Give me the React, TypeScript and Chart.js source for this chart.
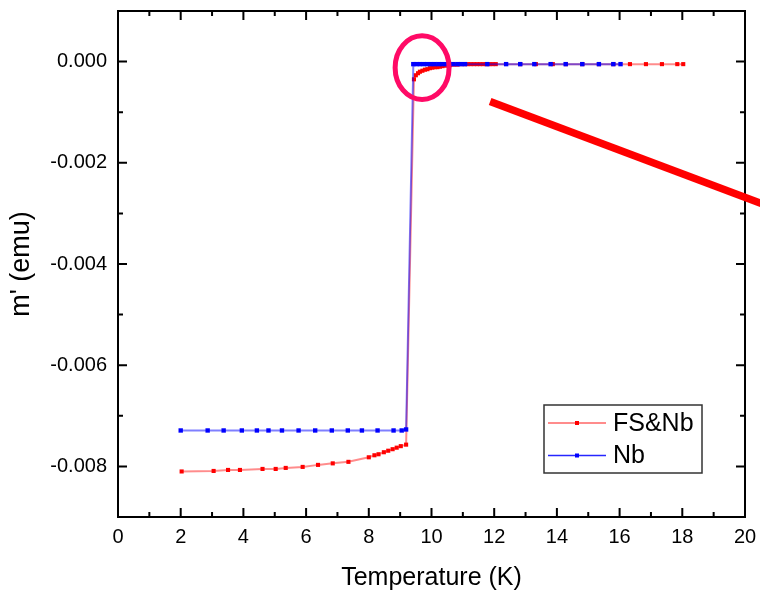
import React, { useEffect, useRef } from 'react';
import { Chart, registerables } from 'chart.js';

Chart.register(...registerables);

// ---------- data ----------
const nbTemp = [
  2.0, 2.86, 3.37, 3.95, 4.43, 4.8, 5.23, 5.76, 6.29, 6.82, 7.33, 7.78, 8.28, 8.79, 9.05, 9.19,
  9.42, 9.52, 9.63, 9.75, 9.86, 9.98, 10.1, 10.22, 10.34, 10.46, 10.58, 10.7, 10.83, 10.95, 11.07,
  11.78, 12.38, 12.83, 13.28, 13.8, 14.28, 14.81, 15.34, 15.8, 16.03,
];
const nbMoment = [
  -0.00729, -0.00729, -0.00729, -0.00729, -0.00729, -0.00729, -0.00729, -0.00729, -0.00729, -0.00729,
  -0.00729, -0.00729, -0.00729, -0.00729, -0.00729, -0.00727,
  -0.00005, -0.00005, -0.00005, -0.00005, -0.00005, -0.00005, -0.00005, -0.00005, -0.00005, -0.00005,
  -0.00005, -0.00005, -0.00005, -0.00005, -0.00005,
  -0.00005, -0.00005, -0.00005, -0.00005, -0.00005, -0.00005, -0.00005, -0.00005, -0.00005, -0.00005,
];

const fsTemp = [
  2.03, 3.05, 3.51, 3.89, 4.61, 5.03, 5.35, 5.89, 6.38, 6.85, 7.35, 8.0, 8.18, 8.31, 8.48, 8.62,
  8.76, 8.89, 9.02, 9.19,
  9.44, 9.5, 9.57, 9.63, 9.71, 9.79, 9.87, 9.95, 10.03, 10.11, 10.19, 10.27, 10.35, 10.43, 10.51,
  10.59, 10.7, 10.82, 10.94, 11.06, 11.15, 11.25, 11.35, 11.45, 11.55, 11.65, 11.75, 11.85, 11.95,
  12.05, 12.83, 13.33, 13.87, 14.29, 14.81, 15.34, 15.8, 16.33, 16.84, 17.35, 17.84, 18.03,
];
const fsMoment = [
  -0.0081, -0.00809, -0.00807, -0.00807, -0.00805, -0.00805, -0.00803, -0.00801, -0.00797, -0.00794,
  -0.00791, -0.00782, -0.00778, -0.00776, -0.00772, -0.00769, -0.00766, -0.00763, -0.0076, -0.00757,
  -0.00035, -0.00027, -0.00023, -0.0002, -0.00018, -0.00016, -0.00015, -0.00013, -0.00012, -0.00011,
  -0.00011, -0.0001, -0.00009, -0.00008, -0.00007, -0.00007, -0.00006, -0.00006, -0.00005, -0.00005,
  -0.00005, -0.00005, -0.00005, -0.00005, -0.00005, -0.00005, -0.00005, -0.00005, -0.00005, -0.00005,
  -0.00005, -0.00005, -0.00005, -0.00005, -0.00005, -0.00005, -0.00005, -0.00005, -0.00005, -0.00005,
  -0.00005, -0.00005,
];

const xMajorTicks = [0, 2, 4, 6, 8, 10, 12, 14, 16, 18, 20];
const xMinorTicks = [1, 3, 5, 7, 9, 11, 13, 15, 17, 19];
const yMajorTicks = [-0.008, -0.006, -0.004, -0.002, 0];
const yMinorTicks = [-0.009, -0.007, -0.005, -0.003, -0.001, 0.001];

const seriesLabels = ['FS&Nb', 'Nb'];

// annotations in data coordinates: [temperature, moment]
const circleCenter = [9.7, -0.00012];
const circleRadii = [0.86, 0.00063];
const arrowStart = [11.87, -0.00079];
const arrowEnd = [21.2, -0.00296];

const FONT = '"Liberation Sans", Arial, sans-serif';

const framePlugin = {
  id: 'frameAndExtras',
  afterDraw(chart: any) {
    const { ctx, chartArea: a, scales } = chart;
    const xs = scales.x;
    const ys = scales.y;
    ctx.save();

    // frame
    ctx.strokeStyle = '#000';
    ctx.lineWidth = 2;
    ctx.strokeRect(a.left, a.top, a.right - a.left, a.bottom - a.top);

    // inward ticks
    ctx.lineWidth = 2;
    ctx.beginPath();
    const major = 9;
    const minor = 5;
    xMajorTicks.forEach((v) => {
      const px = xs.getPixelForValue(v);
      ctx.moveTo(px, a.bottom);
      ctx.lineTo(px, a.bottom - major);
      ctx.moveTo(px, a.top);
      ctx.lineTo(px, a.top + major);
    });
    xMinorTicks.forEach((v) => {
      const px = xs.getPixelForValue(v);
      ctx.moveTo(px, a.bottom);
      ctx.lineTo(px, a.bottom - minor);
      ctx.moveTo(px, a.top);
      ctx.lineTo(px, a.top + minor);
    });
    yMajorTicks.forEach((v) => {
      const py = ys.getPixelForValue(v);
      ctx.moveTo(a.left, py);
      ctx.lineTo(a.left + major, py);
      ctx.moveTo(a.right, py);
      ctx.lineTo(a.right - major, py);
    });
    yMinorTicks.forEach((v) => {
      const py = ys.getPixelForValue(v);
      ctx.moveTo(a.left, py);
      ctx.lineTo(a.left + minor, py);
      ctx.moveTo(a.right, py);
      ctx.lineTo(a.right - minor, py);
    });
    ctx.stroke();

    // legend box
    const lx = a.right - 201;
    const ly = a.top + 394;
    const lw = 158;
    const lh = 68;
    ctx.lineWidth = 1.5;
    ctx.strokeStyle = '#333';
    ctx.strokeRect(lx, ly, lw, lh);
    const entries = [
      { label: seriesLabels[0], line: 'rgba(255,0,0,0.45)', pt: '#ff0000', lwid: 2 },
      { label: seriesLabels[1], line: 'rgba(0,0,255,0.85)', pt: '#0000ff', lwid: 1.5 },
    ];
    entries.forEach((e, i) => {
      const cy = ly + 18 + i * 32.5;
      ctx.strokeStyle = e.line;
      ctx.lineWidth = e.lwid;
      ctx.beginPath();
      ctx.moveTo(lx + 4, cy);
      ctx.lineTo(lx + 62, cy);
      ctx.stroke();
      ctx.fillStyle = e.pt;
      ctx.fillRect(lx + 33 - 2, cy - 2, 4, 4);
      ctx.fillStyle = '#000';
      ctx.font = `25px ${FONT}`;
      ctx.textAlign = 'left';
      ctx.textBaseline = 'middle';
      ctx.fillText(e.label, lx + 69, cy + 1);
    });

    // annotation: circle
    const cx = xs.getPixelForValue(circleCenter[0]);
    const cyy = ys.getPixelForValue(circleCenter[1]);
    const rx = xs.getPixelForValue(circleCenter[0] + circleRadii[0]) - cx;
    const ry = cyy - ys.getPixelForValue(circleCenter[1] + circleRadii[1]);
    ctx.strokeStyle = '#ff0a66';
    ctx.lineWidth = 5;
    ctx.beginPath();
    ctx.ellipse(cx, cyy, rx, ry, 0, 0, Math.PI * 2);
    ctx.stroke();

    // annotation: thick red line
    ctx.strokeStyle = '#ff0000';
    ctx.lineWidth = 7.5;
    ctx.lineCap = 'butt';
    ctx.beginPath();
    ctx.moveTo(xs.getPixelForValue(arrowStart[0]), ys.getPixelForValue(arrowStart[1]));
    ctx.lineTo(xs.getPixelForValue(arrowEnd[0]), ys.getPixelForValue(arrowEnd[1]));
    ctx.stroke();

    ctx.restore();
  },
};

export default function App() {
  const ref = useRef<HTMLCanvasElement>(null);
  useEffect(() => {
    const canvas = ref.current;
    if (!canvas) return;
    const chart = new Chart(canvas, {
      type: 'line',
      data: {
        datasets: [
          {
            label: seriesLabels[0],
            data: fsTemp.map((t, i) => ({ x: t, y: fsMoment[i] })),
            borderColor: 'rgba(255,0,0,0.45)',
            borderWidth: 2,
            pointStyle: 'rect',
            pointRadius: 2.9,
            pointBackgroundColor: '#ff0000',
            pointBorderWidth: 0,
            tension: 0,
            order: 1,
          },
          {
            label: seriesLabels[1],
            data: nbTemp.map((t, i) => ({ x: t, y: nbMoment[i] })),
            borderColor: 'rgba(0,0,255,0.5)',
            borderWidth: 2,
            pointStyle: 'rect',
            pointRadius: 3.1,
            pointBackgroundColor: '#0000ff',
            pointBorderWidth: 0,
            tension: 0,
            order: 0,
          },
        ],
      },
      options: {
        responsive: false,
        animation: false,
        devicePixelRatio: 1,
        layout: { padding: { top: 11, right: 15, left: 0, bottom: 0 } },
        plugins: { legend: { display: false }, tooltip: { enabled: false } },
        scales: {
          x: {
            type: 'linear',
            min: 0,
            max: 20,
            grid: { display: false, drawTicks: false },
            border: { display: false },
            afterBuildTicks: (s: any) => {
              s.ticks = xMajorTicks.map((v) => ({ value: v }));
            },
            afterFit: (s: any) => {
              s.height = 81;
              s.paddingLeft = 0;
              s.paddingRight = 0;
            },
            ticks: {
              font: { family: FONT, size: 20 },
              color: '#000',
              padding: 8,
              maxRotation: 0,
              autoSkip: false,
              callback: (v: any) => String(v),
            },
            title: {
              display: true,
              text: 'Temperature (K)',
              font: { family: FONT, size: 25 },
              color: '#000',
              padding: { top: 0, bottom: 5 },
            },
          },
          y: {
            type: 'linear',
            min: -0.009,
            max: 0.001,
            grid: { display: false, drawTicks: false },
            border: { display: false },
            afterBuildTicks: (s: any) => {
              s.ticks = yMajorTicks.map((v) => ({ value: v }));
            },
            afterFit: (s: any) => {
              s.width = 118;
              s.paddingTop = 0;
              s.paddingBottom = 0;
            },
            ticks: {
              font: { family: FONT, size: 20 },
              color: '#000',
              padding: 11,
              autoSkip: false,
              callback: (v: any) => {
                const n = Number(v);
                return Math.abs(n) < 1e-9 ? '0.000' : n.toFixed(3);
              },
            },
            title: {
              display: true,
              text: "m' (emu)",
              font: { family: FONT, size: 27 },
              color: '#000',
              padding: { top: 5, bottom: 0 },
            },
          },
        },
      },
      plugins: [framePlugin],
    });
    return () => chart.destroy();
  }, []);
  return (
    <div style={{ position: 'fixed', left: 0, top: 0, width: 760, height: 598, background: '#fff' }}>
      <canvas ref={ref} width={760} height={598} style={{ display: 'block' }} />
    </div>
  );
}
